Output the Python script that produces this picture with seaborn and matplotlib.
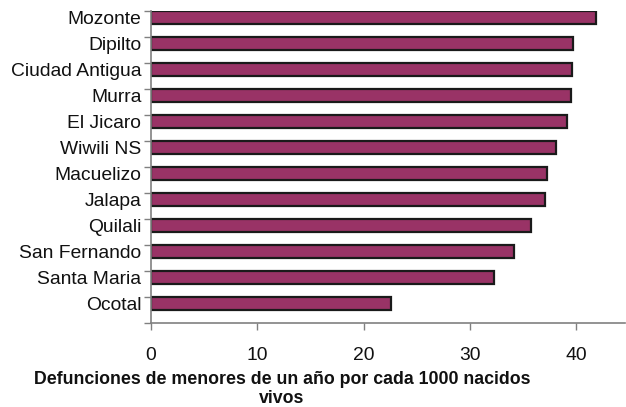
import numpy as np
import pandas as pd
import matplotlib
matplotlib.use("Agg")
import matplotlib.pyplot as plt
import seaborn as sns

# Data
municipios = ['Mozonte', 'Dipilto', 'Ciudad Antigua', 'Murra', 'El Jicaro',
              'Wiwili NS', 'Macuelizo', 'Jalapa', 'Quilali', 'San Fernando',
              'Santa Maria', 'Ocotal']
tasas = [41.9, 39.7, 39.6, 39.5, 39.1, 38.1, 37.3, 37.1, 35.8, 34.2, 32.3,
         22.6]
xticks = [0, 10, 20, 30, 40]

df = pd.DataFrame({'municipio': municipios, 'tasa': tasas})

sns.set_theme(style='white')
plt.rcParams['font.family'] = ['Liberation Sans', 'DejaVu Sans']

fig = plt.figure(figsize=(6.26, 4.07), dpi=100)
ax = fig.add_axes([151 / 626, 1 - 323 / 407, (625 - 151) / 626,
                   (323 - 11) / 407])

sns.barplot(data=df, x='tasa', y='municipio', orient='h', ax=ax,
            color='#993366', saturation=1, width=0.5,
            edgecolor='#1a1a1a', linewidth=1.6)

# bars sit in the upper half of each category slot
n = len(municipios)
for i, bar in enumerate(ax.patches):
    bar.set_y(i - 0.25)

ax.set_ylim(n - 0.25, -0.25)
ax.set_xlim(0, 44.6)
ax.set_xticks(xticks)
ax.set_yticks(np.arange(n))
ax.set_yticklabels(municipios)
ax.set_yticks(np.arange(n + 1) - 0.25, minor=True)
ax.tick_params(axis='y', which='major', length=0, pad=7, labelsize=13.9,
               labelcolor='#111111')
ax.tick_params(axis='y', which='minor', left=True, length=5, width=1,
               color='#808080', direction='out')
ax.tick_params(axis='x', bottom=True, length=5, width=1, color='#808080',
               direction='out', pad=12, labelsize=13.9, labelcolor='#111111')

ax.set_xlabel('')
ax.set_ylabel('')
for side in ['top', 'right']:
    ax.spines[side].set_visible(False)
for side in ['left', 'bottom']:
    ax.spines[side].set_color('#808080')
    ax.spines[side].set_linewidth(1.2)

fig.text(282 / 626, 1 - 389 / 407,
         'Defunciones de menores de un año por cada 1000 nacidos\nvivos',
         ha='center', va='center', fontsize=12.8, fontweight='bold',
         color='#111111', linespacing=1.12)

fig.savefig('out.png', dpi=100)
